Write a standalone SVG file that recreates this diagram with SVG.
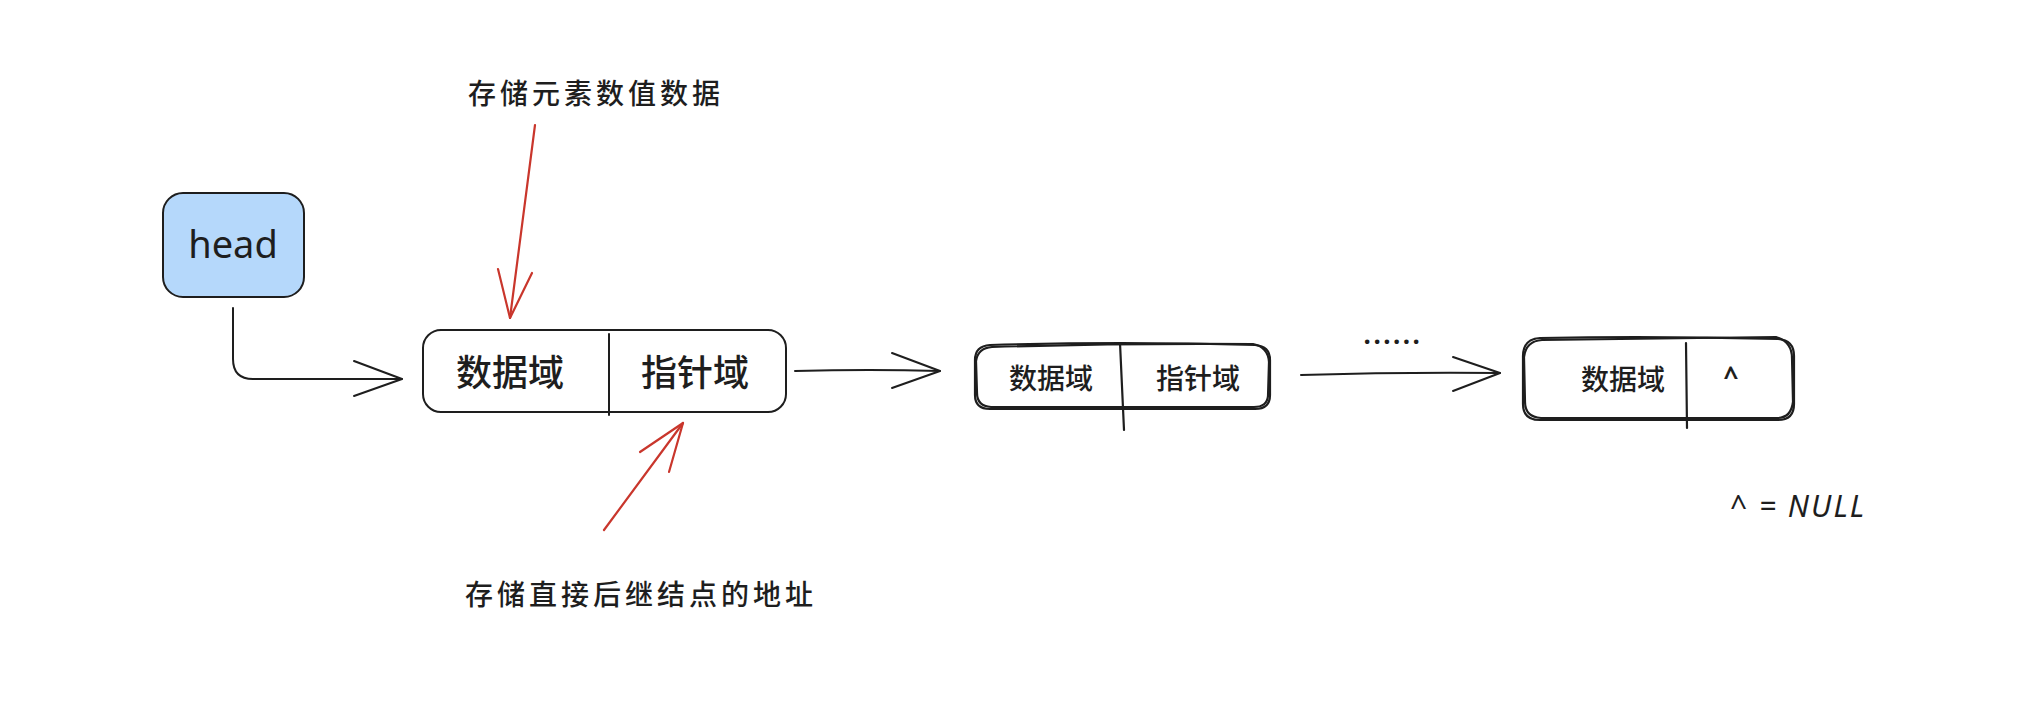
<svg xmlns="http://www.w3.org/2000/svg" width="2028" height="712" viewBox="0 0 2028 712">
<style>
.box{fill:none;stroke:#1e1e1e;stroke-width:2}
.sk{fill:none;stroke:#1e1e1e;stroke-width:2.2;stroke-linecap:round}
.ln{fill:none;stroke:#1e1e1e;stroke-width:2;stroke-linecap:round;stroke-linejoin:round}
.red{fill:none;stroke:#c9362c;stroke-width:2.2;stroke-linecap:round;stroke-linejoin:round}
.cjk{font-family:"Noto Sans CJK SC","Noto Sans",sans-serif;fill:#1e1e1e;text-anchor:middle;dominant-baseline:central;font-weight:500}
.hand{font-family:"Noto Sans","Liberation Sans",sans-serif;fill:#1e1e1e;text-anchor:middle;dominant-baseline:central}
</style>
<rect width="2028" height="712" fill="#ffffff"/>
<g id="head">
<rect x="163" y="193" width="141" height="104" rx="20" fill="#b5d8fb" stroke="#1e1e1e" stroke-width="2"/>
<text class="hand" x="233" y="243" font-size="38">head</text>
</g>
<g id="node1">
<rect class="box" x="423" y="330" width="363" height="82" rx="18"/>
<line class="ln" x1="609" y1="334" x2="609" y2="415"/>
<text class="cjk" x="510" y="370" font-size="36">数据域</text>
<text class="cjk" x="695" y="370" font-size="36">指针域</text>
</g>
<g id="node2">
<path class="sk" d="M990 345 Q1120 341 1255 345 Q1270 346 1270 360 L1270 395 Q1270 409 1255 409 L990 409 Q975 409 975 395 L975 360 Q975 346 990 345 Z"/>
<path class="sk" d="M992 347 Q1120 343 1253 344 Q1268 347 1269 362 L1268 396 Q1267 407 1254 407 L991 407 Q977 406 977 393 L976 361 Q978 348 992 347" stroke-width="1.2"/>
<path class="sk" d="M1120 343 L1124 430"/>
<text class="cjk" x="1051" y="377" font-size="28">数据域</text>
<text class="cjk" x="1198" y="377" font-size="28">指针域</text>
</g>
<g id="node3">
<path class="sk" d="M1540 338 Q1660 336 1778 339 Q1794 340 1794 356 L1794 404 Q1794 420 1778 420 L1540 420 Q1523 420 1523 404 L1523 356 Q1523 339 1540 338 Z"/>
<path class="sk" d="M1542 340 Q1660 338 1776 337 Q1792 342 1792 358 L1793 402 Q1791 418 1777 418 L1541 418 Q1525 417 1525 402 L1524 357 Q1526 341 1542 340" stroke-width="1.2"/>
<path class="sk" d="M1686 343 L1687 428" stroke-width="3"/>
<text class="cjk" x="1623" y="378" font-size="28">数据域</text>
<text class="hand" x="1731" y="376" font-size="26" font-weight="bold">^</text>
</g>
<g id="dots">
<text class="hand" x="1393" y="334" font-size="26" font-weight="bold" letter-spacing="2.5">......</text>
</g>
<g id="label-top">
<text class="cjk" x="596" y="92" font-size="28" letter-spacing="4">存储元素数值数据</text>
</g>
<g id="label-bottom">
<text class="cjk" x="641" y="593" font-size="28" letter-spacing="4">存储直接后继结点的地址</text>
</g>
<g id="null-note">
<text class="hand" x="1798" y="505" font-size="30" font-style="italic" letter-spacing="2">^ = NULL</text>
</g>
<g id="connectors">
<path class="ln" d="M233 308 L233 359 Q233 379 253 379 L402 379"/>
<path class="ln" d="M354 361 L402 379 L354 396"/>
<path class="ln" d="M795 371 Q870 369 940 371" stroke-width="2.4"/>
<path class="ln" d="M892 353 L940 371 L892 388" stroke-width="2.4"/>
<path class="ln" d="M1301 375 Q1400 372 1500 373" stroke-width="2.6"/>
<path class="ln" d="M1453 357 L1500 373 L1453 391" stroke-width="2.6"/>
<path class="red" d="M535 125 L510 318"/>
<path class="red" d="M498 269 L510 318 L532 273"/>
<path class="red" d="M604 530 L683 423"/>
<path class="red" d="M640 452 L683 423 L669 472"/>
</g>
</svg>
